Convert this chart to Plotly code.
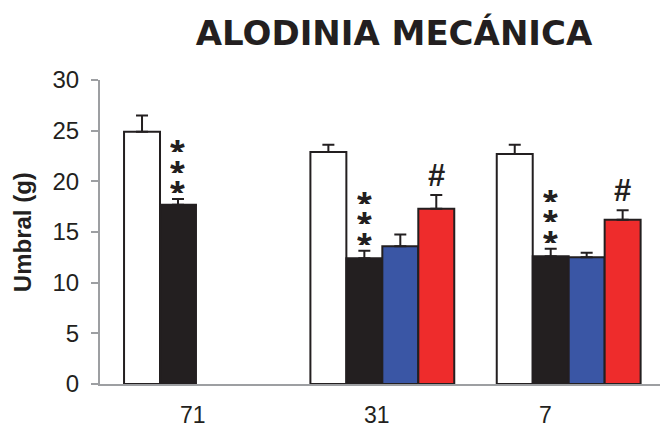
import plotly.graph_objects as go

# Groups (days) and series values
groups = ["71", "31", "7"]
control = [24.9, 22.9, 22.7]
control_err = [1.6, 0.7, 0.9]
vehicle = [17.7, 12.4, 12.6]
vehicle_err = [0.55, 0.75, 0.75]
treat_a = [None, 13.6, 12.5]
treat_a_err = [None, 1.15, 0.45]
treat_b = [None, 17.3, 16.2]
treat_b_err = [None, 1.35, 0.95]

# Significance marks drawn above the bars
stars_on = [True, True, True]      # *** over vehicle bars
hash_on = [False, True, True]      # # over treat_b bars

OUTLINE = "#231f20"
AXIS = "#9d9fa2"
FONT = "Arial, Liberation Sans"
series = [
    (control, control_err, "#ffffff"),
    (vehicle, vehicle_err, "#231f20"),
    (treat_a, treat_a_err, "#3a56a5"),
    (treat_b, treat_b_err, "#ee2c2c"),
]

BARGAP = 0.228
n_series = len(series)
slot = (1 - BARGAP) / n_series
x_idx = list(range(len(groups)))
label_nudge = [-3, -5, -23]   # px nudges for the category labels

fig = go.Figure()
for vals, errs, color in series:
    fig.add_trace(go.Bar(
        x=x_idx, y=vals,
        marker=dict(color=color, line=dict(color=OUTLINE, width=2)),
        error_y=dict(type="data", symmetric=False, array=errs,
                     arrayminus=[0] * len(errs), color=OUTLINE,
                     thickness=2, width=6),
        showlegend=False,
    ))

def bar_center(i, k):
    return i - (1 - BARGAP) / 2 + slot * (k + 0.5)

ann = []
for i in x_idx:
    if stars_on[i]:
        top = vehicle[i] + vehicle_err[i]
        for j in range(3):
            # a compact box keeps the three stacked stars from overlapping
            ann.append(dict(x=bar_center(i, 1), y=top, xref="x", yref="y",
                            text="<b>*</b>", showarrow=False,
                            height=19, valign="top", borderpad=0,
                            yanchor="bottom", yshift=5 + 20.5 * j,
                            font=dict(family=FONT, size=38, color=OUTLINE)))
    if hash_on[i]:
        top = treat_b[i] + treat_b_err[i]
        ann.append(dict(x=bar_center(i, 3), y=top, xref="x", yref="y",
                        text="<b>#</b>", showarrow=False,
                        yanchor="bottom", yshift=0,
                        font=dict(family=FONT, size=31, color=OUTLINE)))
    # category label under the axis
    ann.append(dict(x=i, y=0, xref="x", yref="paper", text=groups[i],
                    showarrow=False, yanchor="top", yshift=-16,
                    xshift=label_nudge[i],
                    font=dict(family=FONT, size=23, color=OUTLINE)))

# y-axis title
ann.append(dict(x=-0.139, y=0.5, xref="paper", yref="paper",
                text="<b>Umbral (g)</b>", textangle=-90, showarrow=False,
                xanchor="center", yanchor="middle",
                font=dict(family=FONT, size=24, color=OUTLINE)))

fig.update_layout(
    width=660, height=430,
    margin=dict(l=100, r=0, t=80, b=46),
    paper_bgcolor="white", plot_bgcolor="white",
    barmode="group", bargap=BARGAP, bargroupgap=0,
    font=dict(family=FONT, color=OUTLINE),
    title=dict(text="<b>ALODINIA MECÁNICA</b>", x=0.597, xanchor="center",
               y=0.923, yanchor="middle",
               font=dict(family="DejaVu Sans", size=34, color=OUTLINE)),
    annotations=ann,
)
fig.update_xaxes(
    range=[-0.515, 2.49], showticklabels=False,
    showline=True, linecolor=AXIS, linewidth=2, ticks="",
    showgrid=False, zeroline=False,
)
fig.update_yaxes(
    range=[0, 30], tickvals=[0, 5, 10, 15, 20, 25, 30],
    showline=True, linecolor=AXIS, linewidth=2,
    ticks="outside", ticklen=7, tickwidth=2, tickcolor=AXIS,
    ticklabelstandoff=7,
    showgrid=False, zeroline=False, tickfont=dict(size=24),
)

fig.write_html("out.html")
